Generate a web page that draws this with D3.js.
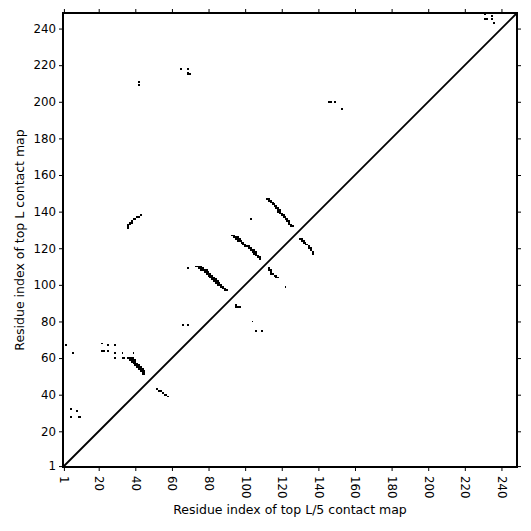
<!DOCTYPE html>
<html>
<head>
<meta charset="utf-8">
<script src="https://cdn.jsdelivr.net/npm/d3@7"></script>
<style>
  body { margin: 0; background: #fff; }
  svg text { font-family: "DejaVu Sans", sans-serif; fill: #000; }
</style>
</head>
<body>
<div id="chart"></div>
<script>
const SEQ_LEN = 248;
const TICKS = [1, 20, 40, 60, 80, 100, 120, 140, 160, 180, 200, 220, 240];

// upper-left triangle: top L contacts [i, j]
const topL = [
  [2,67],[6,63],[5,32],[8,31],[5,28],[9,28],[10,28],
  [22,68],[25,67],[29,67],[22,64],[23,64],[25,64],[29,63],[33,63],[39,63],
  [29,60],[33,60],[34,60],
  [36,60],[37,60],[38,60],[37,59],[38,59],[39,60],[38,58],[39,59],[40,59],[39,58],[40,58],[39,57],
  [40,57],[41,57],[40,56],[41,56],[42,56],[41,55],[42,55],[43,55],[42,54],[43,54],[44,54],
  [43,53],[44,53],[45,53],[44,52],[45,52],[44,51],[45,51],
  [36,131],[36,132],[36,133],[37,133],[37,134],[38,134],[38,135],[39,136],[40,136],[41,137],[42,137],[43,138],
  [42,209],[42,211],[65,218],[69,218],[69,216],[69,215],[70,215],
  [66,78],[69,78],[69,109],
  [73,110],[74,110],[75,110],[76,110],[75,109],[76,109],[77,109],[76,108],[77,108],[78,108],
  [78,107],[79,108],[79,107],[80,107],[79,106],[80,106],[81,106],[80,105],[81,105],[82,105],
  [81,104],[82,104],[83,104],[82,103],[83,103],[84,103],[83,102],[84,102],[85,102],[84,101],
  [85,101],[86,101],[85,100],[86,100],[87,100],[87,99],[88,99],[88,98],[89,98],[89,97],[90,97],
  [93,127],[94,127],[94,126],[95,126],[96,126],[95,125],[96,125],[97,125],[96,124],[97,124],
  [98,124],[98,123],[99,123],[99,122],[100,122],[100,121],[101,121],[102,121],[102,120],[103,120],
  [103,119],[104,119],[105,119],[104,118],[105,118],[106,118],[105,117],[106,117],[106,116],
  [107,116],[107,115],[108,115],[108,114],
  [103,136],
  [112,147],[113,147],[113,146],[114,146],[114,145],[115,145],[115,144],[116,144],[116,143],
  [117,143],[117,142],[118,142],[118,141],[119,141],[118,140],[119,140],[119,139],[120,139],[120,138],
  [121,138],[121,137],[122,137],[122,136],[123,136],[123,135],[124,135],[124,134],[124,133],[125,133],
  [125,132],[126,132],
  [146,200],[147,200],[149,200],[153,196],
  [231,248],[231,245],[232,245],[235,247],[235,245],[236,243]
];

// lower-right triangle: top L/5 contacts [i, j]
const topL5 = [
  [52,43],[53,42],[54,42],[55,41],[56,40],[57,40],[58,39],
  [95,89],[95,88],[96,88],[97,88],
  [104,80],[106,75],[109,75],
  [113,109],[113,108],[114,108],[114,107],[114,106],[115,106],[116,105],[117,105],[117,104],[118,104],[122,99],
  [130,125],[131,125],[131,124],[132,124],[132,123],[133,123],[133,122],[134,122],
  [135,121],[135,120],[136,120],[136,119],[137,118],[137,117]
];

const W = 531, H = 531;
const M = {left: 63, right: 14, top: 13, bottom: 64};

const svg = d3.select('#chart').append('svg')
  .attr('width', W)
  .attr('height', H);

const x = d3.scaleLinear().domain([0.5, SEQ_LEN + 0.5]).range([M.left, W - M.right]);
const y = d3.scaleLinear().domain([0.5, SEQ_LEN + 0.5]).range([H - M.bottom, M.top]);

const cells = svg.append('g').attr('shape-rendering', 'crispEdges');
cells.selectAll('rect')
  .data(topL.concat(topL5))
  .enter()
  .append('rect')
  .attr('x', d => x(d[0] - 0.5))
  .attr('y', d => y(d[1] + 0.5))
  .attr('width', d => x(d[0] + 0.5) - x(d[0] - 0.5))
  .attr('height', d => y(d[1] - 0.5) - y(d[1] + 0.5))
  .attr('fill', '#000');

// diagonal
svg.append('line')
  .attr('x1', x(0.5)).attr('y1', y(0.5))
  .attr('x2', x(SEQ_LEN + 0.5)).attr('y2', y(SEQ_LEN + 0.5))
  .attr('stroke', '#000')
  .attr('stroke-width', 1.8);

const fmt = d3.format('d');
const styleAxis = g => {
  g.select('.domain').remove();
  g.selectAll('.tick line').attr('stroke', '#000').attr('stroke-width', 1);
  g.selectAll('.tick text').attr('font-size', 11.8).attr('font-family', '"DejaVu Sans", sans-serif');
};

const xAxis = svg.append('g')
  .attr('transform', `translate(0,${H - M.bottom})`)
  .call(d3.axisBottom(x).tickValues(TICKS).tickFormat(fmt).tickSize(4).tickPadding(3))
  .call(styleAxis);
xAxis.selectAll('.tick text')
  .attr('transform', 'rotate(90)')
  .attr('x', 9)
  .attr('y', 0)
  .attr('dy', '0.35em')
  .attr('text-anchor', 'start');

svg.append('g')
  .attr('transform', `translate(0,${M.top})`)
  .call(d3.axisTop(x).tickValues(TICKS).tickFormat('').tickSize(4))
  .call(styleAxis);

svg.append('g')
  .attr('transform', `translate(${M.left},0)`)
  .call(d3.axisLeft(y).tickValues(TICKS).tickFormat(fmt).tickSize(4).tickPadding(3))
  .call(styleAxis);

svg.append('g')
  .attr('transform', `translate(${W - M.right},0)`)
  .call(d3.axisRight(y).tickValues(TICKS).tickFormat('').tickSize(4))
  .call(styleAxis);

// frame
svg.append('rect')
  .attr('x', M.left).attr('y', M.top)
  .attr('width', W - M.left - M.right)
  .attr('height', H - M.top - M.bottom)
  .attr('fill', 'none')
  .attr('stroke', '#000')
  .attr('stroke-width', 2);

svg.append('text')
  .attr('x', (M.left + W - M.right) / 2)
  .attr('y', 514)
  .attr('text-anchor', 'middle')
  .attr('font-size', 12.5)
  .text('Residue index of top L/5 contact map');

svg.append('text')
  .attr('transform', `translate(24,${(M.top + H - M.bottom) / 2}) rotate(-90)`)
  .attr('text-anchor', 'middle')
  .attr('font-size', 12.5)
  .text('Residue index of top L contact map');
</script>
</body>
</html>
